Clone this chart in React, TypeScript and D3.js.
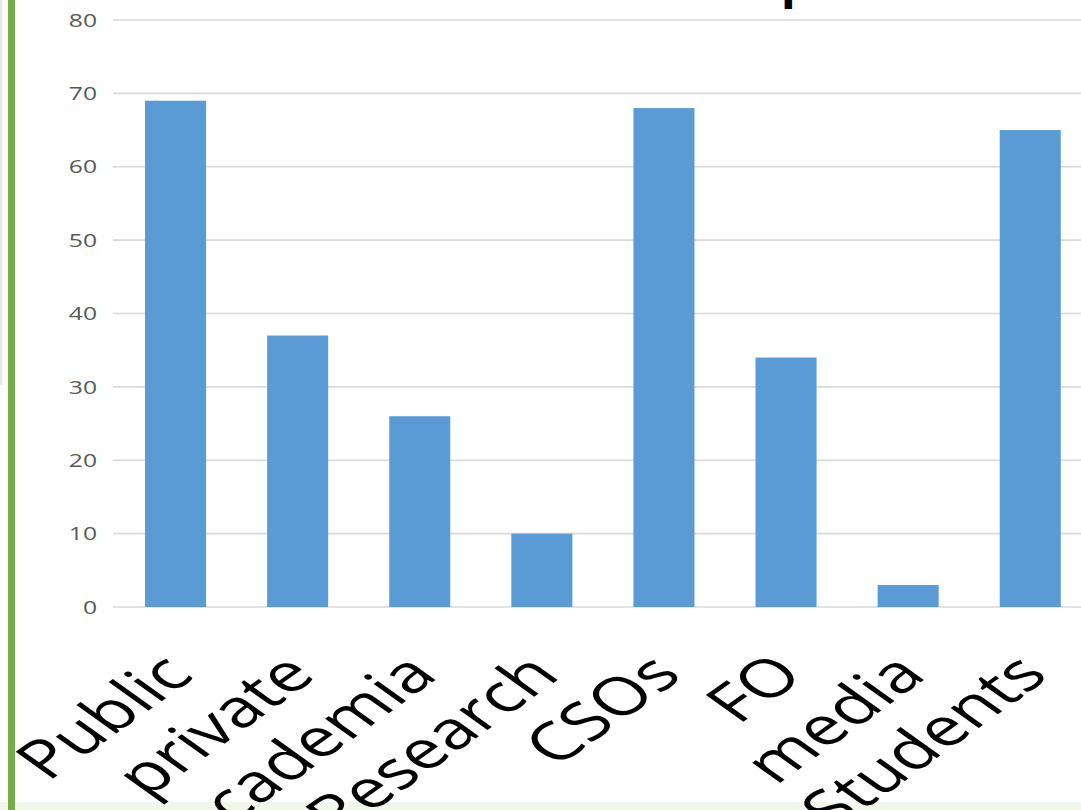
import React from "react";
import * as d3 from "d3";

const categories = ["Public", "private", "academia", "Research", "CSOs", "FO", "media", "Students"];
const values = [69, 37, 26, 10, 68, 34, 3, 65];
const yTicks = [0, 10, 20, 30, 40, 50, 60, 70, 80];
const title = "Stakeholder Group";

const W = 1081;
const H = 810;
const SX = 1.3;
const LSX = 1.4;

export default function App() {
  const y = d3.scaleLinear().domain([0, 80]).range([607, 20]);
  const x = d3
    .scaleBand<string>()
    .domain(categories)
    .range([114.5, 114.5 + 8 * 122.1])
    .paddingInner(0.5)
    .paddingOuter(0.25);

  return (
    <div style={{ position: "fixed", left: 0, top: 0, width: W, height: H, background: "#fff" }}>
      <svg width={W} height={H} style={{ display: "block" }}>
        <rect x={0} y={0} width={W} height={H} fill="#ffffff" />
        <rect x={0} y={802} width={W} height={8} fill="#f1f8ea" />
        <rect x={0} y={0} width={2} height={385} fill="#e6e6e6" />
        <rect x={8} y={0} width={7} height={H} fill="#76ab4c" />

        <g transform={`translate(812, 0) scale(${SX},1)`}>
          <text
            x={0}
            y={0}
            textAnchor="end"
            fontFamily="'Open Sans', sans-serif"
            fontWeight={700}
            fontSize={38}
            fill="#000"
          >
            {title}
          </text>
        </g>

        {yTicks.map((t) => (
          <g key={t}>
            <line x1={113} x2={W} y1={y(t)} y2={y(t)} stroke="#d9d9d9" strokeWidth={1.6} />
            <g transform={`translate(97, ${y(t)}) scale(${SX},1)`}>
              <text
                x={0}
                y={0}
                dy="0.35em"
                textAnchor="end"
                fontFamily="'Open Sans', sans-serif"
                fontSize={19}
                fill="#595959"
              >
                {t}
              </text>
            </g>
          </g>
        ))}

        {categories.map((c, i) => (
          <rect
            key={c}
            x={x(c)}
            y={y(values[i])}
            width={x.bandwidth()}
            height={y(0) - y(values[i])}
            fill="#5b9bd5"
          />
        ))}

        {categories.map((c) => (
          <g
            key={c + "-l"}
            transform={`translate(${(x(c) as number) + x.bandwidth() / 2 + 20}, 677) scale(${LSX},1) rotate(-45)`}
          >
            <text
              x={0}
              y={0}
              textAnchor="end"
              fontFamily="'Open Sans', sans-serif"
              fontSize={53}
              fill="#000"
            >
              {c}
            </text>
          </g>
        ))}
      </svg>
    </div>
  );
}
